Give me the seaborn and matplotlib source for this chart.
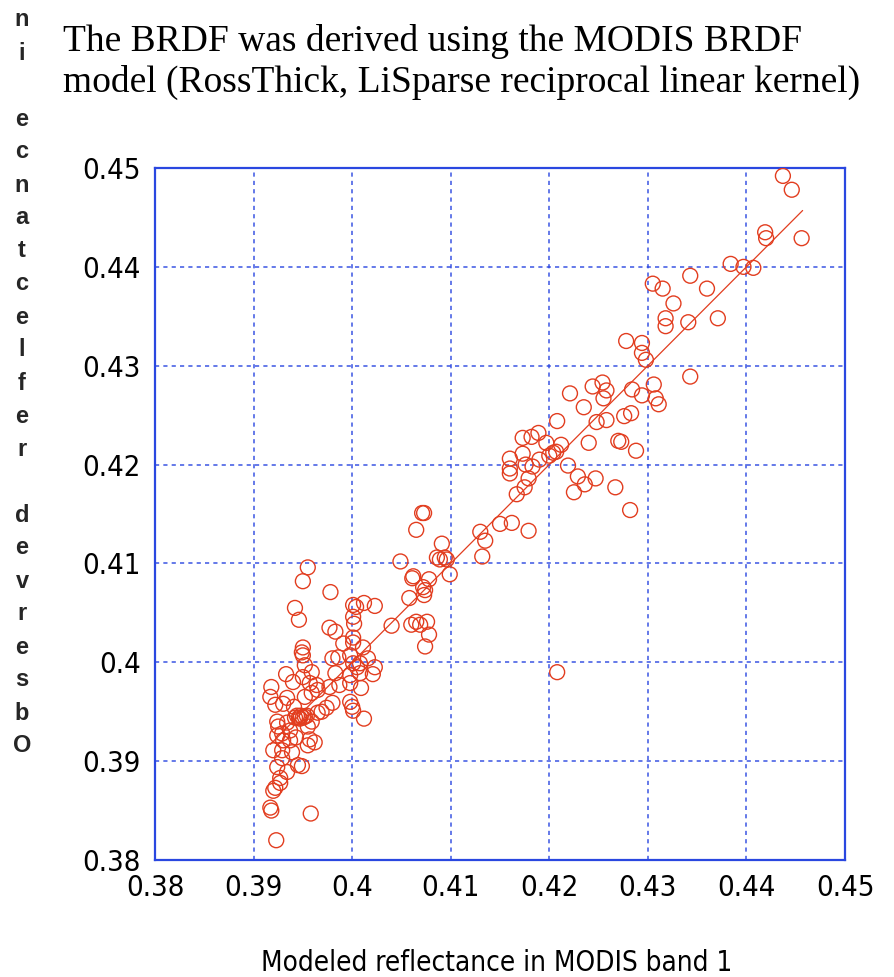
import matplotlib
matplotlib.use("Agg")
import matplotlib.pyplot as plt
import seaborn as sns
import pandas as pd

sns.set_theme(style="white")

# ---------------- data ----------------
modeled = [
    0.4437, 0.4446, 0.4419, 0.4420, 0.4456, 0.4384, 0.4397, 0.4407, 0.4343, 0.4305,
    0.4315, 0.4360, 0.4326, 0.4318, 0.4318, 0.4341, 0.4371, 0.4278, 0.4294, 0.4294,
    0.4298, 0.4343, 0.4254, 0.4258, 0.4255, 0.4284, 0.4306, 0.4294, 0.4308, 0.4311,
    0.4276, 0.4283, 0.4258, 0.4270, 0.4273, 0.4288,
    0.4244, 0.4221, 0.4235, 0.4248, 0.4208, 0.4240, 0.4173, 0.4182, 0.4189, 0.4197,
    0.4212, 0.4173, 0.4160, 0.4160, 0.4160, 0.4176, 0.4183, 0.4190, 0.4200, 0.4207,
    0.4204, 0.4179, 0.4175, 0.4167, 0.4219, 0.4229, 0.4236, 0.4247, 0.4267, 0.4225,
    0.4282, 0.4150, 0.4162, 0.4179,
    0.4130, 0.4135, 0.4132, 0.4071, 0.4073, 0.4065, 0.4091, 0.4086, 0.4089, 0.4094,
    0.4096, 0.4049, 0.4099, 0.4062, 0.4061, 0.4078, 0.4072, 0.4074, 0.4073, 0.4058,
    0.4040, 0.4060, 0.4065, 0.4069, 0.4076, 0.4078, 0.4074, 0.4208,
    0.3955, 0.3950, 0.3978, 0.3942, 0.3946, 0.3977, 0.3983, 0.3950, 0.3949, 0.3950,
    0.4001, 0.4004, 0.4012, 0.4023, 0.4001, 0.4002, 0.4001, 0.4001, 0.4011, 0.3991,
    0.3980, 0.3986, 0.3998, 0.4001, 0.4016, 0.4008, 0.4023, 0.4021, 0.4005, 0.3952,
    0.3959, 0.3933, 0.3940, 0.3950, 0.3983, 0.3998, 0.4008, 0.3918, 0.3957, 0.3964,
    0.3977, 0.3998,
    0.3917, 0.3922, 0.3930, 0.3934, 0.3941, 0.3952, 0.3959, 0.3965, 0.3987, 0.4009,
    0.3998, 0.4000, 0.4001, 0.4012, 0.3980, 0.3974, 0.3969, 0.3965,
    0.3942, 0.3944, 0.3946, 0.3948, 0.3950, 0.3952, 0.3954, 0.3947,
    0.3924, 0.3925, 0.3934, 0.3929, 0.3937, 0.3959, 0.3955, 0.3924, 0.3930, 0.3937,
    0.3943, 0.3957, 0.3962, 0.3955, 0.3920, 0.3929, 0.3939, 0.3929, 0.3924, 0.3945,
    0.3949, 0.3934, 0.3927, 0.3927, 0.3922, 0.3920, 0.3917, 0.3918, 0.3958, 0.3923,
]
observed = [
    0.4492, 0.4478, 0.4435, 0.4429, 0.4429, 0.4403, 0.4400, 0.4399, 0.4391, 0.4383,
    0.4378, 0.4378, 0.4363, 0.4348, 0.4340, 0.4344, 0.4348, 0.4325, 0.4323, 0.4313,
    0.4306, 0.4289, 0.4283, 0.4275, 0.4267, 0.4276, 0.4281, 0.4270, 0.4267, 0.4261,
    0.4249, 0.4252, 0.4245, 0.4224, 0.4223, 0.4214,
    0.4279, 0.4272, 0.4258, 0.4243, 0.4244, 0.4222, 0.4227, 0.4228, 0.4232, 0.4222,
    0.4220, 0.4211, 0.4206, 0.4196, 0.4191, 0.4200, 0.4198, 0.4205, 0.4209, 0.4213,
    0.4212, 0.4186, 0.4177, 0.4170, 0.4199, 0.4188, 0.4180, 0.4186, 0.4177, 0.4172,
    0.4154, 0.4140, 0.4141, 0.4133,
    0.4132, 0.4123, 0.4107, 0.4151, 0.4151, 0.4134, 0.4120, 0.4106, 0.4104, 0.4106,
    0.4104, 0.4102, 0.4089, 0.4087, 0.4085, 0.4084, 0.4076, 0.4073, 0.4068, 0.4065,
    0.4037, 0.4038, 0.4041, 0.4038, 0.4041, 0.4028, 0.4016, 0.3990,
    0.4096, 0.4082, 0.4071, 0.4055, 0.4043, 0.4035, 0.4031, 0.4015, 0.4010, 0.4007,
    0.4058, 0.4056, 0.4060, 0.4057, 0.4046, 0.4039, 0.4025, 0.4020, 0.4015, 0.4019,
    0.4004, 0.4005, 0.4007, 0.3999, 0.4004, 0.3999, 0.3995, 0.3988, 0.3995, 0.3997,
    0.3990, 0.3988, 0.3980, 0.3985, 0.3989, 0.3987, 0.3989, 0.3975, 0.3979, 0.3977,
    0.3975, 0.3979,
    0.3965, 0.3957, 0.3958, 0.3964, 0.3955, 0.3965, 0.3969, 0.3972, 0.3977, 0.3974,
    0.3960, 0.3955, 0.3951, 0.3943, 0.3959, 0.3954, 0.3950, 0.3949,
    0.3944, 0.3946, 0.3944, 0.3946, 0.3944, 0.3945, 0.3946, 0.3943,
    0.3940, 0.3935, 0.3939, 0.3928, 0.3931, 0.3940, 0.3935, 0.3926, 0.3921, 0.3921,
    0.3924, 0.3922, 0.3919, 0.3916, 0.3911, 0.3911, 0.3909, 0.3903, 0.3894, 0.3896,
    0.3895, 0.3889, 0.3883, 0.3878, 0.3873, 0.3870, 0.3853, 0.3850, 0.3847, 0.3820,
]
fit_x = [0.3917, 0.4457]
fit_y = [0.3917, 0.4457]

ticks = [0.38, 0.39, 0.40, 0.41, 0.42, 0.43, 0.44, 0.45]
tick_labels = ["0.38", "0.39", "0.4", "0.41", "0.42", "0.43", "0.44", "0.45"]

title_text = "The BRDF was derived using the MODIS BRDF\nmodel (RossThick, LiSparse reciprocal linear kernel)"
xlabel_text = "Modeled reflectance in MODIS band 1"
ylabel_text = "Observed reflectance in"

# ---------------- styling ----------------
red = "#e23d1f"
blue = "#2a47e0"
sans = "DejaVu Sans"

df = pd.DataFrame({"modeled": modeled, "observed": observed})
fit = pd.DataFrame({"x": fit_x, "y": fit_y})

fig = plt.figure(figsize=(8.94, 9.77), dpi=100)
ax = fig.add_axes([155 / 894, 1 - 860 / 977, 690 / 894, 692 / 977])

sns.lineplot(data=fit, x="x", y="y", ax=ax, color=red, linewidth=0.9, zorder=3)
sns.scatterplot(data=df, x="modeled", y="observed", ax=ax, marker="o",
                s=115, facecolors="none", edgecolor=red, linewidth=1.0, zorder=4)

ax.set_xlim(0.38, 0.45)
ax.set_ylim(0.38, 0.45)
ax.set_xticks(ticks)
ax.set_yticks(ticks)
ax.set_xticklabels(tick_labels)
ax.set_yticklabels(tick_labels)
for lab in ax.get_xticklabels() + ax.get_yticklabels():
    lab.set_fontfamily(sans)
    lab.set_fontstretch("condensed")
    lab.set_fontsize(21)
    lab.set_fontweight("normal")
    lab.set_color("black")
ax.tick_params(axis="both", length=0, pad=10)
ax.set_xlabel("")
ax.set_ylabel("")

ax.grid(True, color=blue, linestyle=(0, (2.5, 2.5)), linewidth=1.2, alpha=0.85)
ax.set_axisbelow(True)
for sp in ax.spines.values():
    sp.set_color(blue)
    sp.set_linewidth(1.6)
    sp.set_visible(True)

fig.text(63 / 894, 1 - 62 / 977, title_text, family="Liberation Serif",
         fontsize=27, va="center", ha="left", linespacing=1.2, color="black")

fig.text(497 / 894, 1 - 963 / 977, xlabel_text, family=sans, fontstretch="condensed",
         fontweight="normal", fontsize=20, ha="center", va="center", color="black")

letters = list(ylabel_text)[::-1]
for k, ch in enumerate(letters):
    if ch.strip():
        fig.text(22 / 894, 1 - (20 + 33 * k) / 977, ch, family="Liberation Sans",
                 fontweight="bold", fontsize=17, ha="center", va="center")

fig.savefig("out.png", dpi=100)
